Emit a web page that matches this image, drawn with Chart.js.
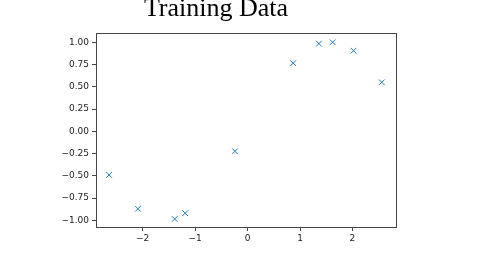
<!DOCTYPE html>
<html>
<head>
<meta charset="utf-8">
<script src="https://cdn.jsdelivr.net/npm/chart.js@4/dist/chart.umd.min.js"></script>
<style>
html,body{margin:0;padding:0;background:#fff;}
#wrap{width:480px;height:270px;position:relative;}
</style>
</head>
<body>
<div id="wrap"><canvas id="c" width="480" height="270"></canvas></div>
<script>
const titleText = "Training Data";
const xValues = [-2.64, -2.09, -1.39, -1.19, -0.24, 0.87, 1.36, 1.62, 2.02, 2.56];
const yValues = [-0.49, -0.87, -0.985, -0.92, -0.225, 0.765, 0.985, 1.0, 0.905, 0.55];
const xTicks = [-2, -1, 0, 1, 2];
const yTicks = [-1.0, -0.75, -0.5, -0.25, 0.0, 0.25, 0.5, 0.75, 1.0];

const points = xValues.map((x, i) => ({x: x, y: yValues[i]}));
const minus = s => s.replace('-', '\u2212');

const framePlugin = {
  id: 'frame',
  afterDraw(chart) {
    const {ctx, chartArea: a} = chart;
    ctx.save();
    ctx.strokeStyle = '#444';
    ctx.lineWidth = 1;
    ctx.strokeRect(Math.round(a.left) + 0.5, Math.round(a.top) + 0.5,
                   Math.round(a.right - a.left), Math.round(a.bottom - a.top));
    ctx.fillStyle = '#000';
    ctx.font = '26px "Liberation Serif", "Times New Roman", serif';
    ctx.textAlign = 'center';
    ctx.textBaseline = 'alphabetic';
    ctx.fillText(titleText, 216, 16);
    ctx.restore();
  }
};

new Chart(document.getElementById('c'), {
  type: 'scatter',
  data: {
    datasets: [{
      data: points,
      pointStyle: 'crossRot',
      pointRadius: 4,
      pointHoverRadius: 4,
      borderColor: '#1f77b4',
      backgroundColor: '#1f77b4',
      pointBorderWidth: 1
    }]
  },
  options: {
    responsive: false,
    animation: false,
    devicePixelRatio: 1,
    layout: {padding: {top: 33, right: 84, left: 0, bottom: 0}},
    plugins: {legend: {display: false}, tooltip: {enabled: false}, title: {display: false}},
    scales: {
      x: {
        type: 'linear',
        min: -2.89, max: 2.83,
        afterFit: s => { s.height = 43; },
        afterBuildTicks: s => { s.ticks = xTicks.map(v => ({value: v})); },
        grid: {drawOnChartArea: false, drawTicks: true, tickLength: 4, color: '#444'},
        border: {display: true, color: '#444'},
        ticks: {
          color: '#222', padding: 2, maxRotation: 0,
          font: {family: 'DejaVu Sans', size: 9},
          callback: v => minus(String(v))
        }
      },
      y: {
        type: 'linear',
        min: -1.075, max: 1.104,
        afterFit: s => { s.width = 96; },
        afterBuildTicks: s => { s.ticks = yTicks.map(v => ({value: v})); },
        grid: {drawOnChartArea: false, drawTicks: true, tickLength: 4, color: '#444'},
        border: {display: true, color: '#444'},
        ticks: {
          color: '#222', padding: 3,
          font: {family: 'DejaVu Sans', size: 9},
          callback: v => minus(Number(v).toFixed(2))
        }
      }
    }
  },
  plugins: [framePlugin]
});
</script>
</body>
</html>
